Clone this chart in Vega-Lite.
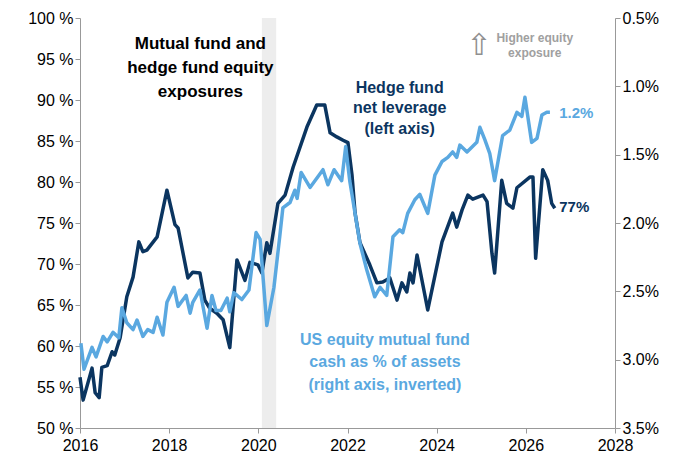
{
  "$schema": "https://vega.github.io/schema/vega-lite/v6.json",
  "width": 535,
  "height": 410,
  "autosize": "none",
  "padding": {"left": 80, "top": 18, "right": 69, "bottom": 36},
  "config": {
    "font": "Liberation Sans",
    "view": {"stroke": null},
    "axis": {"labelFont": "Liberation Sans", "labelFontSize": 16, "labelColor": "#000", "domainColor": "#999", "tickColor": "#999", "grid": false, "title": null, "labelFlush": false}
  },
  "datasets": {
    "hedge": [
      {"year": 2016.00, "v": 56.2}, {"year": 2016.07, "v": 53.4}, {"year": 2016.27, "v": 57.3}, {"year": 2016.34, "v": 54.3},
      {"year": 2016.43, "v": 53.7}, {"year": 2016.49, "v": 57.4}, {"year": 2016.61, "v": 57.6}, {"year": 2016.72, "v": 59.3},
      {"year": 2016.78, "v": 58.9}, {"year": 2016.90, "v": 61.0}, {"year": 2017.05, "v": 66.0}, {"year": 2017.19, "v": 68.4},
      {"year": 2017.32, "v": 72.7}, {"year": 2017.41, "v": 71.5}, {"year": 2017.50, "v": 71.7}, {"year": 2017.73, "v": 73.3},
      {"year": 2017.95, "v": 79.0}, {"year": 2018.13, "v": 74.8}, {"year": 2018.20, "v": 74.4}, {"year": 2018.42, "v": 68.3},
      {"year": 2018.53, "v": 69.0}, {"year": 2018.69, "v": 68.9}, {"year": 2018.80, "v": 65.6}, {"year": 2018.91, "v": 64.6},
      {"year": 2019.07, "v": 64.0}, {"year": 2019.21, "v": 63.2}, {"year": 2019.36, "v": 59.8}, {"year": 2019.52, "v": 70.5},
      {"year": 2019.70, "v": 68.0}, {"year": 2019.81, "v": 70.2}, {"year": 2019.99, "v": 69.9}, {"year": 2020.08, "v": 68.9},
      {"year": 2020.19, "v": 72.6}, {"year": 2020.26, "v": 71.3}, {"year": 2020.44, "v": 77.4}, {"year": 2020.60, "v": 78.4},
      {"year": 2020.78, "v": 81.8}, {"year": 2021.09, "v": 86.7}, {"year": 2021.31, "v": 89.4}, {"year": 2021.49, "v": 89.4},
      {"year": 2021.61, "v": 86.0}, {"year": 2021.76, "v": 85.5}, {"year": 2021.90, "v": 85.1}, {"year": 2022.01, "v": 84.8},
      {"year": 2022.10, "v": 80.9}, {"year": 2022.17, "v": 76.2}, {"year": 2022.28, "v": 72.6}, {"year": 2022.50, "v": 69.9},
      {"year": 2022.66, "v": 67.7}, {"year": 2022.79, "v": 67.8}, {"year": 2022.95, "v": 68.3}, {"year": 2023.11, "v": 65.6},
      {"year": 2023.22, "v": 67.7}, {"year": 2023.33, "v": 66.6}, {"year": 2023.40, "v": 68.9}, {"year": 2023.47, "v": 67.7},
      {"year": 2023.56, "v": 71.1}, {"year": 2023.80, "v": 64.4}, {"year": 2024.12, "v": 72.7}, {"year": 2024.36, "v": 76.2},
      {"year": 2024.45, "v": 74.5}, {"year": 2024.57, "v": 76.6}, {"year": 2024.70, "v": 78.4}, {"year": 2024.81, "v": 77.9},
      {"year": 2025.04, "v": 78.4}, {"year": 2025.13, "v": 77.6}, {"year": 2025.24, "v": 71.3}, {"year": 2025.30, "v": 68.9},
      {"year": 2025.46, "v": 80.2}, {"year": 2025.57, "v": 77.4}, {"year": 2025.71, "v": 76.8}, {"year": 2025.80, "v": 79.3},
      {"year": 2026.09, "v": 80.6}, {"year": 2026.16, "v": 80.6}, {"year": 2026.22, "v": 70.7}, {"year": 2026.38, "v": 81.5},
      {"year": 2026.49, "v": 80.2}, {"year": 2026.58, "v": 77.4}, {"year": 2026.65, "v": 76.8}
    ],
    "cash": [
      {"year": 2016.02, "v": 2.88}, {"year": 2016.09, "v": 3.07}, {"year": 2016.27, "v": 2.91}, {"year": 2016.36, "v": 2.98},
      {"year": 2016.52, "v": 2.83}, {"year": 2016.61, "v": 2.87}, {"year": 2016.74, "v": 2.80}, {"year": 2016.87, "v": 2.84},
      {"year": 2016.94, "v": 2.62}, {"year": 2017.05, "v": 2.73}, {"year": 2017.19, "v": 2.78}, {"year": 2017.28, "v": 2.71},
      {"year": 2017.41, "v": 2.83}, {"year": 2017.52, "v": 2.78}, {"year": 2017.64, "v": 2.80}, {"year": 2017.73, "v": 2.69},
      {"year": 2017.86, "v": 2.82}, {"year": 2017.95, "v": 2.58}, {"year": 2018.11, "v": 2.47}, {"year": 2018.20, "v": 2.61},
      {"year": 2018.38, "v": 2.53}, {"year": 2018.47, "v": 2.66}, {"year": 2018.53, "v": 2.58}, {"year": 2018.69, "v": 2.49},
      {"year": 2018.85, "v": 2.77}, {"year": 2018.96, "v": 2.53}, {"year": 2019.05, "v": 2.64}, {"year": 2019.16, "v": 2.64},
      {"year": 2019.30, "v": 2.55}, {"year": 2019.36, "v": 2.65}, {"year": 2019.45, "v": 2.51}, {"year": 2019.63, "v": 2.56},
      {"year": 2019.79, "v": 2.49}, {"year": 2019.95, "v": 2.07}, {"year": 2020.04, "v": 2.12}, {"year": 2020.19, "v": 2.75},
      {"year": 2020.35, "v": 2.47}, {"year": 2020.48, "v": 2.10}, {"year": 2020.55, "v": 1.89}, {"year": 2020.71, "v": 1.85},
      {"year": 2020.82, "v": 1.76}, {"year": 2020.87, "v": 1.82}, {"year": 2020.96, "v": 1.63}, {"year": 2021.16, "v": 1.74},
      {"year": 2021.45, "v": 1.61}, {"year": 2021.56, "v": 1.72}, {"year": 2021.70, "v": 1.61}, {"year": 2021.87, "v": 1.69},
      {"year": 2021.96, "v": 1.44}, {"year": 2022.05, "v": 1.69}, {"year": 2022.17, "v": 1.93}, {"year": 2022.28, "v": 2.15},
      {"year": 2022.43, "v": 2.34}, {"year": 2022.61, "v": 2.54}, {"year": 2022.73, "v": 2.47}, {"year": 2022.88, "v": 2.53},
      {"year": 2023.02, "v": 2.10}, {"year": 2023.17, "v": 2.05}, {"year": 2023.24, "v": 2.07}, {"year": 2023.35, "v": 1.93},
      {"year": 2023.51, "v": 1.83}, {"year": 2023.62, "v": 1.79}, {"year": 2023.80, "v": 1.93}, {"year": 2023.96, "v": 1.65},
      {"year": 2024.12, "v": 1.55}, {"year": 2024.25, "v": 1.52}, {"year": 2024.36, "v": 1.48}, {"year": 2024.45, "v": 1.52},
      {"year": 2024.52, "v": 1.43}, {"year": 2024.68, "v": 1.48}, {"year": 2024.90, "v": 1.41}, {"year": 2024.97, "v": 1.30},
      {"year": 2025.08, "v": 1.39}, {"year": 2025.19, "v": 1.49}, {"year": 2025.30, "v": 1.69}, {"year": 2025.48, "v": 1.36},
      {"year": 2025.64, "v": 1.32}, {"year": 2025.80, "v": 1.19}, {"year": 2025.91, "v": 1.22}, {"year": 2025.98, "v": 1.08},
      {"year": 2026.13, "v": 1.41}, {"year": 2026.25, "v": 1.38}, {"year": 2026.36, "v": 1.21}, {"year": 2026.47, "v": 1.19},
      {"year": 2026.54, "v": 1.19}
    ]
  },
  "encoding": {
    "x": {"type": "quantitative", "scale": {"domain": [2016, 2028]},
      "axis": {"values": [2016, 2018, 2020, 2022, 2024, 2026, 2028], "format": "d", "tickSize": 5, "labelPadding": 4}}
  },
  "layer": [
    {
      "data": {"values": [{"start": 2020.08, "end": 2020.4}]},
      "mark": {"type": "rect", "color": "#ededed"},
      "encoding": {"x": {"field": "start", "type": "quantitative"}, "x2": {"field": "end"}}
    },
    {
      "data": {"name": "hedge"},
      "mark": {"type": "line", "color": "#0b3560", "strokeWidth": 3.5, "strokeJoin": "round"},
      "encoding": {
        "x": {"field": "year", "type": "quantitative"},
        "y": {"field": "v", "type": "quantitative", "scale": {"domain": [50, 100], "nice": false, "zero": false},
          "axis": {"orient": "left", "values": [50, 55, 60, 65, 70, 75, 80, 85, 90, 95, 100], "labelExpr": "datum.value + ' %'", "tickSize": 5}}
      }
    },
    {
      "data": {"name": "cash"},
      "mark": {"type": "line", "color": "#5aa8e0", "strokeWidth": 3.5, "strokeJoin": "round"},
      "encoding": {
        "x": {"field": "year", "type": "quantitative"},
        "y": {"field": "v", "type": "quantitative", "scale": {"domain": [0.5, 3.5], "reverse": true, "nice": false, "zero": false},
          "axis": {"orient": "right", "values": [0.5, 1, 1.5, 2, 2.5, 3, 3.5], "labelExpr": "format(datum.value, '.1f') + '%'", "tickSize": 5}}
      }
    },
    {
      "data": {"values": [
        {"x": 2018.7, "y": 96.8, "t": "Mutual fund and"},
        {"x": 2018.7, "y": 93.9, "t": "hedge fund equity"},
        {"x": 2018.7, "y": 91.0, "t": "exposures"}
      ]},
      "mark": {"type": "text", "fontSize": 17, "fontWeight": "bold", "color": "#000", "align": "center", "baseline": "middle"},
      "encoding": {"x": {"field": "x", "type": "quantitative"}, "y": {"field": "y", "type": "quantitative", "scale": {"domain": [50, 100]}, "axis": null}, "text": {"field": "t"}}
    },
    {
      "data": {"values": [
        {"x": 2023.17, "y": 91.5, "t": "Hedge fund"},
        {"x": 2023.17, "y": 89.0, "t": "net leverage"},
        {"x": 2023.17, "y": 86.5, "t": "(left axis)"}
      ]},
      "mark": {"type": "text", "fontSize": 16, "fontWeight": "bold", "color": "#0b3560", "align": "center", "baseline": "middle"},
      "encoding": {"x": {"field": "x", "type": "quantitative"}, "y": {"field": "y", "type": "quantitative", "scale": {"domain": [50, 100]}, "axis": null}, "text": {"field": "t"}}
    },
    {
      "data": {"values": [{"x": 2026.75, "y": 77.0, "t": "77%"}]},
      "mark": {"type": "text", "fontSize": 15, "fontWeight": "bold", "color": "#0b3560", "align": "left", "baseline": "middle"},
      "encoding": {"x": {"field": "x", "type": "quantitative"}, "y": {"field": "y", "type": "quantitative", "scale": {"domain": [50, 100]}, "axis": null}, "text": {"field": "t"}}
    },
    {
      "data": {"values": [
        {"x": 2022.84, "y": 60.7, "t": "US equity mutual fund"},
        {"x": 2022.84, "y": 58.0, "t": "cash as % of assets"},
        {"x": 2022.84, "y": 55.3, "t": "(right axis, inverted)"}
      ]},
      "mark": {"type": "text", "fontSize": 16, "fontWeight": "bold", "color": "#5aa8e0", "align": "center", "baseline": "middle"},
      "encoding": {"x": {"field": "x", "type": "quantitative"}, "y": {"field": "y", "type": "quantitative", "scale": {"domain": [50, 100]}, "axis": null}, "text": {"field": "t"}}
    },
    {
      "data": {"values": [{"x": 2026.75, "y": 88.4, "t": "1.2%"}]},
      "mark": {"type": "text", "fontSize": 15, "fontWeight": "bold", "color": "#5aa8e0", "align": "left", "baseline": "middle"},
      "encoding": {"x": {"field": "x", "type": "quantitative"}, "y": {"field": "y", "type": "quantitative", "scale": {"domain": [50, 100]}, "axis": null}, "text": {"field": "t"}}
    },
    {
      "data": {"values": [
        {"x": 2026.2, "y": 97.6, "t": "Higher equity"},
        {"x": 2026.2, "y": 95.7, "t": "exposure"}
      ]},
      "mark": {"type": "text", "fontSize": 12, "fontWeight": "bold", "color": "#a0a0a0", "align": "center", "baseline": "middle"},
      "encoding": {"x": {"field": "x", "type": "quantitative"}, "y": {"field": "y", "type": "quantitative", "scale": {"domain": [50, 100]}, "axis": null}, "text": {"field": "t"}}
    },
    {
      "data": {"values": [{"x": 2024.95, "y": 96.6, "t": "⇧"}]},
      "mark": {"type": "text", "fontSize": 30, "color": "#909090", "align": "center", "baseline": "middle", "font": "DejaVu Sans"},
      "encoding": {"x": {"field": "x", "type": "quantitative"}, "y": {"field": "y", "type": "quantitative", "scale": {"domain": [50, 100]}, "axis": null}, "text": {"field": "t"}}
    }
  ],
  "resolve": {"scale": {"y": "independent"}}
}
